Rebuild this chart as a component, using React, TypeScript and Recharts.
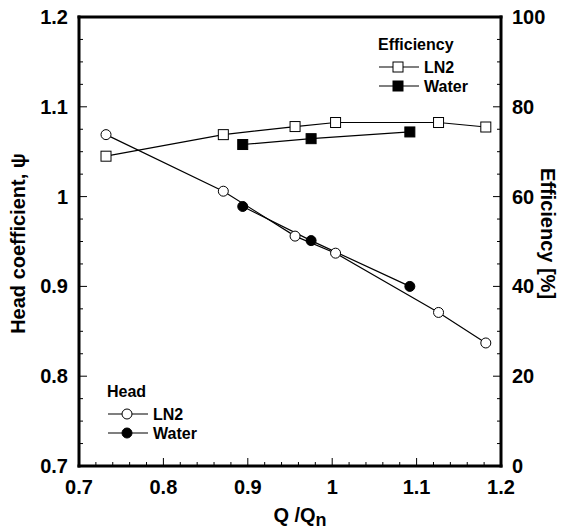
import React from 'react';
import { ComposedChart, Line, XAxis, YAxis } from 'recharts';

// flow ratio Q/Qn for each test fluid
const flowLn2 = [0.732, 0.871, 0.956, 1.004, 1.126, 1.182];
const flowWater = [0.894, 0.975, 1.092];

// head coefficient (left axis)
const headLn2 = [1.069, 1.006, 0.956, 0.937, 0.871, 0.837];
const headWater = [0.989, 0.951, 0.9];

// efficiency in % (right axis)
const effLn2 = [69.0, 73.8, 75.6, 76.5, 76.5, 75.5];
const effWater = [71.6, 72.9, 74.4];

const xTicks = [
  0.7, 0.72, 0.74, 0.76, 0.78, 0.8, 0.82, 0.84, 0.86, 0.88, 0.9, 0.92, 0.94,
  0.96, 0.98, 1, 1.02, 1.04, 1.06, 1.08, 1.1, 1.12, 1.14, 1.16, 1.18, 1.2,
];
const xLabels = [0.7, 0.8, 0.9, 1, 1.1, 1.2];
const headTicks = [
  0.7, 0.725, 0.75, 0.775, 0.8, 0.825, 0.85, 0.875, 0.9, 0.925, 0.95, 0.975,
  1, 1.025, 1.05, 1.075, 1.1, 1.125, 1.15, 1.175, 1.2,
];
const headLabels = [0.7, 0.8, 0.9, 1, 1.1, 1.2];
const effTicks = [
  0, 5, 10, 15, 20, 25, 30, 35, 40, 45, 50, 55, 60, 65, 70, 75, 80, 85, 90, 95,
  100,
];
const effLabels = [0, 20, 40, 60, 80, 100];

const FONT = '"Liberation Sans", Arial, Helvetica, sans-serif';
const W = 561;
const H = 529;

const toPoints = (q: number[], v: number[]) => q.map((x, i) => ({ q: x, v: v[i] }));

const isMajor = (v: number, labels: number[]) => labels.some((m) => Math.abs(m - v) < 1e-6);

type MarkerKind = 'openCircle' | 'filledCircle' | 'openSquare' | 'filledSquare';

function Marker({ kind, cx, cy }: { kind: MarkerKind; cx: number; cy: number }) {
  if (kind === 'openCircle' || kind === 'filledCircle') {
    return (
      <circle
        cx={cx}
        cy={cy}
        r={5}
        fill={kind === 'openCircle' ? '#fff' : '#000'}
        stroke="#000"
        strokeWidth={1}
      />
    );
  }
  return (
    <rect
      x={cx - 5}
      y={cy - 5}
      width={10}
      height={10}
      fill={kind === 'openSquare' ? '#fff' : '#000'}
      stroke="#000"
      strokeWidth={1}
    />
  );
}

const dotOf = (kind: MarkerKind) => (p: any) => (
  <g key={`${kind}-${p.index}`}>
    <Marker kind={kind} cx={p.cx} cy={p.cy} />
  </g>
);

const tickText = {
  fontFamily: FONT,
  fontWeight: 700,
  fontSize: 20,
  fill: '#000',
};

function BottomTick(props: any) {
  const { x, y, payload } = props;
  const major = isMajor(payload.value, xLabels);
  const axisY = y - 14;
  return (
    <g>
      <line x1={x} x2={x} y1={axisY} y2={axisY - (major ? 8 : 4)} stroke="#000" />
      {major && (
        <text x={x} y={y} dy="0.71em" textAnchor="middle" {...tickText}>
          {String(payload.value)}
        </text>
      )}
    </g>
  );
}

function TopTick(props: any) {
  const { x, y, payload } = props;
  const major = isMajor(payload.value, xLabels);
  return <line x1={x} x2={x} y1={y} y2={y + (major ? 8 : 4)} stroke="#000" />;
}

function LeftTick(props: any) {
  const { x, y, payload } = props;
  const major = isMajor(payload.value, headLabels);
  const axisX = x + 11;
  return (
    <g>
      <line x1={axisX} x2={axisX + (major ? 8 : 4)} y1={y} y2={y} stroke="#000" />
      {major && (
        <text x={x} y={y} dy="0.35em" textAnchor="end" {...tickText}>
          {String(payload.value)}
        </text>
      )}
    </g>
  );
}

function RightTick(props: any) {
  const { x, y, payload } = props;
  const major = isMajor(payload.value, effLabels);
  const axisX = x - 11;
  return (
    <g>
      <line x1={axisX} x2={axisX - (major ? 8 : 4)} y1={y} y2={y} stroke="#000" />
      {major && (
        <text x={x} y={y} dy="0.35em" textAnchor="start" {...tickText}>
          {String(payload.value)}
        </text>
      )}
    </g>
  );
}

const titleText = { fontFamily: FONT, fontWeight: 700, fontSize: 20, fill: '#000' };

const leftTitle = (p: any) => {
  const vb = p.viewBox;
  const cx = vb.x + 18;
  const cy = vb.y + vb.height / 2 + 2;
  return (
    <text x={cx} y={cy} dy="0.35em" textAnchor="middle" transform={`rotate(-90 ${cx} ${cy})`} {...titleText}>
      Head coefficient, ψ
    </text>
  );
};

const rightTitle = (p: any) => {
  const vb = p.viewBox;
  const cx = vb.x + 47;
  const cy = vb.y + vb.height / 2 - 8;
  return (
    <text x={cx} y={cy} dy="0.35em" textAnchor="middle" transform={`rotate(90 ${cx} ${cy})`} {...titleText}>
      Efficiency [%]
    </text>
  );
};

const bottomTitle = (p: any) => {
  const vb = p.viewBox;
  return (
    <text x={vb.x + vb.width / 2 + 10} y={vb.y + 56} textAnchor="middle" {...titleText}>
      Q /Q
      <tspan dy={4} fontSize={18}>
        n
      </tspan>
    </text>
  );
};

const axisLine = { stroke: '#000', strokeWidth: 3, strokeLinecap: 'square' as const };

const legendGroups = [
  {
    title: 'Efficiency',
    x: 378,
    y: 44,
    entries: [
      { name: 'LN2', kind: 'openSquare' as MarkerKind },
      { name: 'Water', kind: 'filledSquare' as MarkerKind },
    ],
  },
  {
    title: 'Head',
    x: 107,
    y: 391,
    entries: [
      { name: 'LN2', kind: 'openCircle' as MarkerKind },
      { name: 'Water', kind: 'filledCircle' as MarkerKind },
    ],
  },
];

function LegendOverlay() {
  const legendText = { fontFamily: FONT, fontWeight: 700, fontSize: 16, fill: '#000' };
  return (
    <svg
      width={W}
      height={H}
      style={{ position: 'absolute', left: 0, top: 0, pointerEvents: 'none' }}
    >
      {legendGroups.map((g) => (
        <g key={g.title}>
          <text x={g.x} y={g.y} dy="0.35em" {...legendText}>
            {g.title}
          </text>
          {g.entries.map((e, i) => {
            const ey = g.y + 23 + i * 19;
            return (
              <g key={e.name}>
                <line x1={g.x + 1} x2={g.x + 41} y1={ey} y2={ey} stroke="#000" strokeWidth={1.2} />
                <Marker kind={e.kind} cx={g.x + 20} cy={ey} />
                <text x={g.x + 46} y={ey} dy="0.35em" {...legendText}>
                  {e.name}
                </text>
              </g>
            );
          })}
        </g>
      ))}
    </svg>
  );
}

export default function App() {
  return (
    <div style={{ position: 'absolute', left: 0, top: 0, width: W, height: H, background: '#fff' }}>
      <ComposedChart width={W} height={H} margin={{ top: 0, right: 0, bottom: 0, left: 0 }}>
        <XAxis
          xAxisId="b"
          dataKey="q"
          type="number"
          domain={[0.7, 1.2]}
          ticks={xTicks}
          interval={0}
          height={63}
          tickSize={0}
          tickMargin={14}
          axisLine={axisLine}
          tick={BottomTick}
          label={{ content: bottomTitle }}
        />
        <XAxis
          xAxisId="t"
          orientation="top"
          dataKey="q"
          type="number"
          domain={[0.7, 1.2]}
          ticks={xTicks}
          interval={0}
          height={17}
          tickSize={0}
          tickMargin={0}
          axisLine={axisLine}
          tick={TopTick}
        />
        <YAxis
          yAxisId="l"
          dataKey="v"
          type="number"
          domain={[0.7, 1.2]}
          ticks={headTicks}
          interval={0}
          width={79}
          tickSize={0}
          tickMargin={11}
          axisLine={axisLine}
          tick={LeftTick}
          label={{ content: leftTitle }}
        />
        <YAxis
          yAxisId="r"
          orientation="right"
          dataKey="v"
          type="number"
          domain={[0, 100]}
          ticks={effTicks}
          interval={0}
          width={60}
          tickSize={0}
          tickMargin={11}
          axisLine={axisLine}
          tick={RightTick}
          label={{ content: rightTitle }}
        />
        <Line
          xAxisId="b"
          yAxisId="r"
          data={toPoints(flowLn2, effLn2)}
          dataKey="v"
          name="Efficiency LN2"
          type="linear"
          stroke="#000"
          strokeWidth={1.2}
          dot={dotOf('openSquare')}
          activeDot={false}
          isAnimationActive={false}
        />
        <Line
          xAxisId="b"
          yAxisId="r"
          data={toPoints(flowWater, effWater)}
          dataKey="v"
          name="Efficiency Water"
          type="linear"
          stroke="#000"
          strokeWidth={1.2}
          dot={dotOf('filledSquare')}
          activeDot={false}
          isAnimationActive={false}
        />
        <Line
          xAxisId="b"
          yAxisId="l"
          data={toPoints(flowLn2, headLn2)}
          dataKey="v"
          name="Head LN2"
          type="linear"
          stroke="#000"
          strokeWidth={1.2}
          dot={dotOf('openCircle')}
          activeDot={false}
          isAnimationActive={false}
        />
        <Line
          xAxisId="b"
          yAxisId="l"
          data={toPoints(flowWater, headWater)}
          dataKey="v"
          name="Head Water"
          type="linear"
          stroke="#000"
          strokeWidth={1.2}
          dot={dotOf('filledCircle')}
          activeDot={false}
          isAnimationActive={false}
        />
      </ComposedChart>
      <LegendOverlay />
    </div>
  );
}
